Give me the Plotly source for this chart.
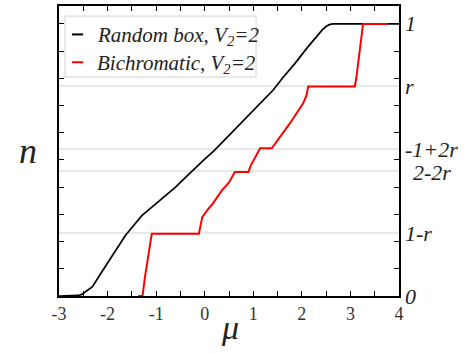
import plotly.graph_objects as go

# ---- data ----
rb_mu = [-3, -2.6, -2.53, -2.45, -2.31, -2.15, -1.97, -1.8, -1.63, -1.45, -1.29, -1.1, -0.94,
         -0.77, -0.6, -0.4, -0.2, 0.0, 0.19, 0.5, 0.86, 1.14, 1.41, 1.62, 1.86, 2.1, 2.30,
         2.42, 2.51, 2.58, 2.65, 4]
rb_n = [0, 0.002, 0.006, 0.015, 0.034, 0.08, 0.131, 0.178, 0.223, 0.262, 0.296, 0.325, 0.35,
        0.375, 0.40, 0.435, 0.47, 0.503, 0.533, 0.59, 0.654, 0.705, 0.757, 0.805, 0.855, 0.91, 0.955,
        0.978, 0.992, 0.998, 1.0, 1.0]

bi_mu = [-1.37, -1.28, -1.23, -1.18, -1.09, -0.12, -0.08, -0.05, 0.05, 0.16, 0.35, 0.50, 0.62,
         0.90, 0.95, 1.05, 1.14, 1.38, 1.43, 1.48, 1.76, 2.03, 2.10, 2.13, 3.09, 3.12, 3.16,
         3.26, 3.77]
bi_n = [0, 0, 0.07, 0.13, 0.229, 0.229, 0.26, 0.29, 0.315, 0.338, 0.387, 0.417, 0.456,
        0.456, 0.48, 0.515, 0.543, 0.543, 0.555, 0.569, 0.636, 0.709, 0.74, 0.77, 0.77, 0.80, 0.861,
        1.0, 1.0]

r_val = 0.77
level_vals = [1.0, r_val, -1 + 2 * r_val, 2 - 2 * r_val, 1 - r_val, 0.0]
level_text = ["1", "r", "-1+2r", "2-2r", "1-r", "0"]
grid_vals = [r_val, -1 + 2 * r_val, 2 - 2 * r_val, 1 - r_val]

x_ticks = [-3, -2, -1, 0, 1, 2, 3, 4]
x_ticktext = ["-3", "-2", "-1", "0", "1", "2", "3", "4"]

series_names = ["Random box, V<sub>2</sub>=2", "Bichromatic, V<sub>2</sub>=2"]
series_colors = ["black", "#ff0000"]

serif = "Liberation Serif"

fig = go.Figure()
fig.add_trace(go.Scatter(x=rb_mu, y=rb_n, mode="lines", name=series_names[0],
                         line=dict(color=series_colors[0], width=1.7)))
fig.add_trace(go.Scatter(x=bi_mu, y=bi_n, mode="lines", name=series_names[1],
                         line=dict(color=series_colors[1], width=2)))

fig.update_layout(
    width=471, height=353,
    margin=dict(l=59, r=72, t=4, b=57),
    plot_bgcolor="white", paper_bgcolor="white",
    showlegend=False,
    xaxis=dict(range=[-3, 4], tickmode="array", tickvals=x_ticks, ticktext=x_ticktext,
               ticks="inside", ticklen=5, tickwidth=1.3, tickcolor="black",
               minor=dict(tickmode="linear", tick0=-3, dtick=0.5, ticks="inside", ticklen=5,
                          tickwidth=1.3, tickcolor="black", showgrid=False),
               showgrid=False, zeroline=False, showline=True, linecolor="black", linewidth=2,
               mirror="allticks",
               tickfont=dict(family=serif, size=18, color="#333")),
    yaxis=dict(range=[0, 1.0657], tickmode="array", tickvals=grid_vals, showticklabels=False,
               ticks="", showgrid=True, gridcolor="#e8e8e8", gridwidth=1.5,
               minor=dict(tickmode="linear", tick0=0, dtick=0.1, ticks="inside", ticklen=5,
                          tickwidth=1.3, tickcolor="black", showgrid=False),
               zeroline=False, showline=True, linecolor="black", linewidth=2, mirror="allticks"),
)

# manual legend box (paper coordinates)
fig.add_shape(type="rect", xref="paper", yref="paper", x0=0.018, x1=0.58, y0=0.755, y1=0.965,
              line=dict(color="#e8e8e8", width=2), fillcolor="white", layer="above")
leg_y = [0.902, 0.806]
for name, col, yy in zip(series_names, series_colors, leg_y):
    fig.add_shape(type="line", xref="paper", yref="paper", x0=0.038, x1=0.071, y0=yy, y1=yy,
                  line=dict(color=col, width=2), layer="above")
    fig.add_annotation(x=0.106, xref="paper", y=yy, yref="paper", text=name, showarrow=False,
                       xanchor="left", yanchor="middle", yshift=-2,
                       font=dict(family=serif, size=21, color="#222", style="italic"))

for v, t in zip(level_vals, level_text):
    fig.add_annotation(x=1, xref="paper", y=v, yref="y", text=t, showarrow=False,
                       xanchor="left", yanchor="middle", xshift=4 if t != "2-2r" else 12,
                       yshift=-2 if t == "2-2r" else 0,
                       font=dict(family=serif, size=22, color="#222", style="italic"))

fig.add_annotation(x=-0.09, xref="paper", y=0.533, yref="y", text="n", showarrow=False,
                   xanchor="center", yanchor="middle",
                   font=dict(family=serif, size=36, color="#222", style="italic"))
fig.add_annotation(x=0.52, xref="x", y=-0.11, yref="paper", text="μ", showarrow=False,
                   xanchor="center", yanchor="middle",
                   font=dict(family=serif, size=34, color="#222", style="italic"))

fig.write_html("out.html")
